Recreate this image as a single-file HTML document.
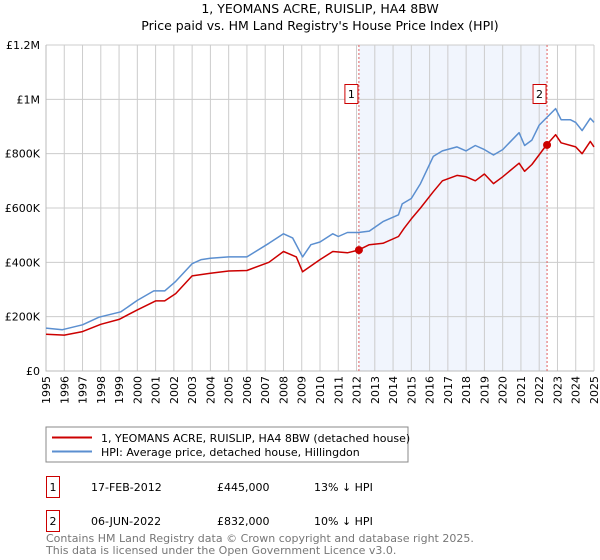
<!DOCTYPE html>
<html><head><meta charset="utf-8"><style>
body{margin:0;background:#fff;font-family:"DejaVu Sans","Liberation Sans",sans-serif;}
svg{display:block}
</style></head><body>
<svg id="c" width="600" height="560" xmlns="http://www.w3.org/2000/svg">
<text x="320" y="13" text-anchor="middle" font-size="12.5">1, YEOMANS ACRE, RUISLIP, HA4 8BW</text>
<text x="320" y="30" text-anchor="middle" font-size="12.5">Price paid vs. HM Land Registry's House Price Index (HPI)</text>
<g id="plot"></g>
<rect x="46" y="427" width="362" height="35" fill="#fff" stroke="#888"/>
<line x1="52" y1="437.5" x2="92" y2="437.5" stroke="#cc0000" stroke-width="2"/>
<text x="101" y="442" font-size="11">1, YEOMANS ACRE, RUISLIP, HA4 8BW (detached house)</text>
<line x1="52" y1="451.5" x2="92" y2="451.5" stroke="#5b8fd0" stroke-width="2"/>
<text x="101" y="456" font-size="11">HPI: Average price, detached house, Hillingdon</text>
<g font-size="11">
<rect x="46.5" y="476.5" width="13" height="21" fill="#fff" stroke="#cc0000"/>
<text x="53" y="491" text-anchor="middle">1</text>
<text x="91" y="491">17-FEB-2012</text><text x="217" y="491">£445,000</text><text x="314" y="491">13% ↓ HPI</text>
<rect x="46.5" y="510.5" width="13" height="21" fill="#fff" stroke="#cc0000"/>
<text x="53" y="525" text-anchor="middle">2</text>
<text x="91" y="525">06-JUN-2022</text><text x="217" y="525">£832,000</text><text x="314" y="525">10% ↓ HPI</text>
</g>
<text x="46" y="542" font-size="11" fill="#777">Contains HM Land Registry data © Crown copyright and database right 2025.</text>
<text x="46" y="554" font-size="11" fill="#777">This data is licensed under the Open Government Licence v3.0.</text>
</svg>
<script>
const hpiYears=[1995,1995.9,1997,1997.9,1999.1,2000,2000.9,2001.5,2002.1,2003,2003.5,2004,2005,2006,2007.2,2008,2008.5,2009.05,2009.5,2010,2010.7,2011,2011.5,2012.1,2012.7,2013.45,2014.3,2014.5,2015,2015.5,2016.2,2016.7,2017.5,2018,2018.5,2019,2019.5,2020,2020.9,2021.2,2021.6,2022,2022.9,2023.2,2023.7,2024,2024.35,2024.8,2025];
const hpiValues=[158,152,170,198,218,260,295,295,330,395,410,415,420,420,470,505,490,420,465,475,505,495,510,510,515,550,575,615,635,690,790,810,825,810,830,815,795,815,877,830,850,905,966,925,925,915,885,930,915];
const ppYears=[1995,1996,1997,1998,1999,2000,2001,2001.5,2002.1,2003,2004,2005,2006,2007.2,2008,2008.7,2009.05,2010,2010.7,2011.5,2012.1,2012.7,2013.45,2014.3,2014.6,2015,2015.5,2016.2,2016.7,2017.5,2018,2018.5,2019,2019.5,2020,2020.9,2021.2,2021.6,2022.4,2022.9,2023.2,2024,2024.35,2024.8,2025];
const ppValues=[135,132,145,172,190,225,258,258,285,350,360,368,370,400,440,420,365,410,440,435,445,465,470,495,525,560,600,660,700,720,715,700,725,690,715,765,735,760,832,870,840,825,800,845,825];
const saleYears=[2012.13,2022.43];
const saleValues=[445,832];
const yTicks=[0,200,400,600,800,1000,1200];
const yTickLabels=["£0","£200K","£400K","£600K","£800K","£1M","£1.2M"];
const xTicks=[];for(let y=1995;y<=2025;y++)xTicks.push(y);

const X0=46,X1=594,Y0=371,Y1=45;
const xs=v=>X0+(v-1995)/30*(X1-X0);
const ys=v=>Y0-v/1200*(Y0-Y1);
const NS="http://www.w3.org/2000/svg";
const g=document.getElementById('plot');
function mk(t,a,p){const e=document.createElementNS(NS,t);for(const k in a)e.setAttribute(k,a[k]);(p||g).appendChild(e);return e;}

const sh=mk('rect',{x:xs(saleYears[0]),y:Y1,width:xs(saleYears[1])-xs(saleYears[0]),height:Y0-Y1,fill:'#eef3fc',opacity:0.8});


xTicks.forEach(t=>{const l=mk('line',{x1:xs(t),x2:xs(t),y1:Y1,y2:Y0,stroke:'#ccc','stroke-width':1});


const tx=mk('text',{x:0,y:0,'font-size':11,'text-anchor':'end',transform:`translate(${xs(t)+4},${Y0+5}) rotate(-90)`});
tx.textContent=t;

});
yTicks.forEach((t,i)=>{const l=mk('line',{x1:X0,x2:X1,y1:ys(t),y2:ys(t),stroke:'#ccc','stroke-width':1});


const tx=mk('text',{x:X0-6,y:ys(t)+4,'font-size':11,'text-anchor':'end'});
tx.textContent=yTickLabels[i];

});
const ax=mk('path',{d:`M${X0},${Y1}V${Y0}H${X1}`,fill:'none',stroke:'#bbb'});


saleYears.forEach((y,i)=>{const l=mk('line',{x1:xs(y),x2:xs(y),y1:Y1,y2:Y0,stroke:'#e06060','stroke-dasharray':'2,2','stroke-width':1});

});
function line(xa,va,c,n){const d=xa.map((x,i)=>(i?'L':'M')+xs(x).toFixed(1)+','+ys(va[i]).toFixed(1)).join('');
const p=mk('path',{d,fill:'none',stroke:c,'stroke-width':1.5,'stroke-linejoin':'round'});

}
line(hpiYears,hpiValues,'#5b8fd0','hpi-line');
line(ppYears,ppValues,'#cc0000','price-paid-line');
saleYears.forEach((y,i)=>{const c=mk('circle',{cx:xs(y),cy:ys(saleValues[i]),r:4,fill:'#cc0000'});


const bx=xs(y)-14;
const r=mk('rect',{x:bx,y:84.5,width:13,height:19,fill:'#fff',stroke:'#cc0000'});


const t=mk('text',{x:bx+6.5,y:98,'font-size':11,'text-anchor':'middle'});
t.textContent=String(i+1);

});
</script>
</body></html>
